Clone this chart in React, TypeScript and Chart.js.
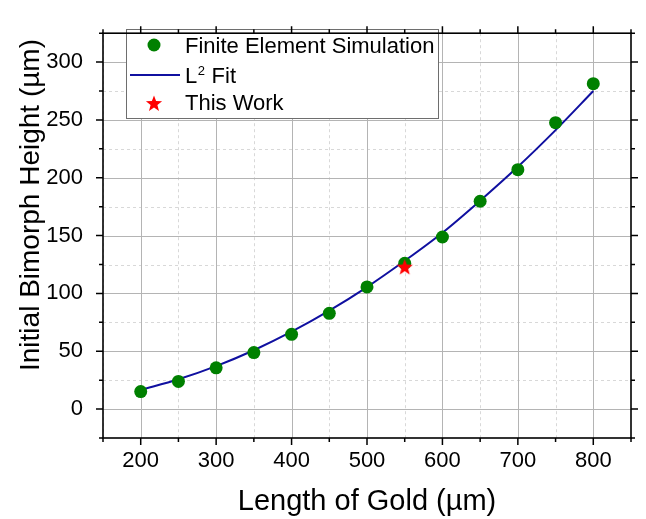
import React, { useEffect, useRef } from "react";
import { Chart, registerables } from "chart.js";

Chart.register(...registerables);

// ---- data ----
const lengths = [200, 250, 300, 350, 400, 450, 500, 550, 600, 650, 700, 750, 800];
const simHeights = [15.1, 23.9, 35.7, 48.9, 64.6, 82.8, 105.6, 126, 148.8, 179.7, 207, 247.6, 281.4];
const fitLengths = [200, 250, 300, 350, 400, 450, 500, 550, 600, 650, 700, 750, 800];
const fitHeights = [16.5, 25.8, 37.2, 50.9, 66.9, 85.1, 105.5, 128.2, 152.5, 180.2, 209.5, 241.2, 275];
const thisWorkLengths = [550];
const thisWorkHeights = [123.2];

const xMajorTicks = [200, 300, 400, 500, 600, 700, 800];
const xMinorTicks = [150, 250, 350, 450, 550, 650, 750, 850];
const yMajorTicks = [0, 50, 100, 150, 200, 250, 300];
const yMinorTicks = [-25, 25, 75, 125, 175, 225, 275, 325];

const seriesLabels = ["Finite Element Simulation", "L", "2", " Fit", "This Work"];
const xTitle = "Length of Gold (µm)";
const yTitle = "Initial Bimorph Height (µm)";

const FONT = "'Liberation Sans', Arial, sans-serif";
const GREEN = "#008000";
const BLUE = "#1010a0";
const RED = "#ff0000";

function drawStar(g: CanvasRenderingContext2D, cx: number, cy: number, R: number, color: string) {
  const r = R * 0.42;
  g.beginPath();
  for (let i = 0; i < 10; i++) {
    const ang = -Math.PI / 2 + (i * Math.PI) / 5;
    const rad = i % 2 === 0 ? R : r;
    const px = cx + rad * Math.cos(ang);
    const py = cy + rad * Math.sin(ang);
    if (i === 0) g.moveTo(px, py);
    else g.lineTo(px, py);
  }
  g.closePath();
  g.fillStyle = color;
  g.fill();
}

function makeStarImage(R: number, color: string) {
  const c = document.createElement("canvas");
  const size = Math.ceil(R * 2 + 2);
  c.width = size;
  c.height = size;
  const g = c.getContext("2d")!;
  drawStar(g, size / 2, size / 2 + 1, R, color);
  return c;
}

const framePlugin = {
  id: "framePlugin",
  beforeDatasetsDraw(chart: any) {
    const { ctx, chartArea: a, scales } = chart;
    const x = scales.x;
    const y = scales.y;
    ctx.save();
    ctx.beginPath();
    ctx.rect(a.left, a.top, a.right - a.left, a.bottom - a.top);
    ctx.clip();
    ctx.lineWidth = 1;
    ctx.strokeStyle = "#d8d8d8";
    ctx.setLineDash([3, 3]);
    for (const v of xMinorTicks) {
      const px = Math.round(x.getPixelForValue(v)) + 0.5;
      ctx.beginPath();
      ctx.moveTo(px, a.top);
      ctx.lineTo(px, a.bottom);
      ctx.stroke();
    }
    for (const v of yMinorTicks) {
      const py = Math.round(y.getPixelForValue(v)) + 0.5;
      ctx.beginPath();
      ctx.moveTo(a.left, py);
      ctx.lineTo(a.right, py);
      ctx.stroke();
    }
    ctx.setLineDash([]);
    ctx.strokeStyle = "#b4b4b4";
    for (const v of xMajorTicks) {
      const px = Math.round(x.getPixelForValue(v)) + 0.5;
      ctx.beginPath();
      ctx.moveTo(px, a.top);
      ctx.lineTo(px, a.bottom);
      ctx.stroke();
    }
    for (const v of yMajorTicks) {
      const py = Math.round(y.getPixelForValue(v)) + 0.5;
      ctx.beginPath();
      ctx.moveTo(a.left, py);
      ctx.lineTo(a.right, py);
      ctx.stroke();
    }
    ctx.restore();
  },
  afterDatasetsDraw(chart: any) {
    const { ctx } = chart;
    ctx.save();
    const L = 126.5, T = 29.5, W = 312, H = 89;
    ctx.fillStyle = "#ffffff";
    ctx.fillRect(L, T, W, H);
    ctx.strokeStyle = "#6e6e6e";
    ctx.lineWidth = 1;
    ctx.strokeRect(L, T, W, H);
    ctx.beginPath();
    ctx.arc(154, 45, 6.5, 0, Math.PI * 2);
    ctx.fillStyle = GREEN;
    ctx.fill();
    ctx.beginPath();
    ctx.moveTo(130, 75);
    ctx.lineTo(180, 75);
    ctx.strokeStyle = BLUE;
    ctx.lineWidth = 2;
    ctx.stroke();
    drawStar(ctx, 154, 104, 8.5, RED);
    ctx.fillStyle = "#000";
    ctx.textAlign = "left";
    ctx.textBaseline = "alphabetic";
    ctx.font = `22px ${FONT}`;
    ctx.fillText(seriesLabels[0], 185, 53);
    ctx.fillText(seriesLabels[1], 185, 83);
    const lw = ctx.measureText(seriesLabels[1]).width;
    ctx.font = `13px ${FONT}`;
    ctx.fillText(seriesLabels[2], 185 + lw + 0.5, 75);
    const sw = ctx.measureText(seriesLabels[2]).width;
    ctx.font = `22px ${FONT}`;
    ctx.fillText(seriesLabels[3], 185 + lw + sw + 1, 83);
    ctx.fillText(seriesLabels[4], 185, 110);
    ctx.restore();
  },
  afterDraw(chart: any) {
    const { ctx, chartArea: a, scales } = chart;
    const x = scales.x;
    const y = scales.y;
    ctx.save();
    ctx.strokeStyle = "#000";
    ctx.lineWidth = 1.6;
    ctx.strokeRect(a.left, a.top, a.right - a.left, a.bottom - a.top);
    const major = 7, minor = 4;
    ctx.lineWidth = 1.5;
    const tickX = (v: number, len: number) => {
      const px = x.getPixelForValue(v);
      ctx.beginPath();
      ctx.moveTo(px, a.bottom);
      ctx.lineTo(px, a.bottom + len);
      ctx.moveTo(px, a.top);
      ctx.lineTo(px, a.top - len);
      ctx.stroke();
    };
    const tickY = (v: number, len: number) => {
      const py = y.getPixelForValue(v);
      ctx.beginPath();
      ctx.moveTo(a.left, py);
      ctx.lineTo(a.left - len, py);
      ctx.moveTo(a.right, py);
      ctx.lineTo(a.right + len, py);
      ctx.stroke();
    };
    xMajorTicks.forEach((v) => tickX(v, major));
    xMinorTicks.forEach((v) => tickX(v, minor));
    yMajorTicks.forEach((v) => tickY(v, major));
    yMinorTicks.forEach((v) => tickY(v, minor));
    ctx.fillStyle = "#000";
    ctx.textAlign = "center";
    ctx.textBaseline = "alphabetic";
    ctx.font = `29px ${FONT}`;
    ctx.fillText(xTitle, (a.left + a.right) / 2, 510);
    ctx.translate(39, 205);
    ctx.rotate(-Math.PI / 2);
    ctx.font = `28px ${FONT}`;
    ctx.fillText(yTitle, 0, 0);
    ctx.restore();
  },
};

export default function App() {
  const ref = useRef<HTMLCanvasElement | null>(null);
  useEffect(() => {
    if (!ref.current) return;
    const star = makeStarImage(8.5, RED);
    const chart = new Chart(ref.current, {
      type: "scatter",
      data: {
        datasets: [
          {
            label: seriesLabels[4],
            data: thisWorkLengths.map((v, i) => ({ x: v, y: thisWorkHeights[i] })),
            pointStyle: star as any,
            pointRadius: 8,
            order: 0,
          },
          {
            label: seriesLabels[0],
            data: lengths.map((v, i) => ({ x: v, y: simHeights[i] })),
            backgroundColor: GREEN,
            borderColor: GREEN,
            pointRadius: 6.5,
            pointBorderWidth: 0,
            order: 1,
          },
          {
            label: "L² Fit",
            data: fitLengths.map((v, i) => ({ x: v, y: fitHeights[i] })),
            showLine: true,
            borderColor: BLUE,
            backgroundColor: BLUE,
            borderWidth: 2,
            pointRadius: 0,
            cubicInterpolationMode: "monotone",
            fill: false,
            order: 2,
          } as any,
        ],
      },
      options: {
        responsive: false,
        animation: false,
        events: [],
        layout: { padding: { top: 12, right: 15, left: 0, bottom: 0 } },
        plugins: { legend: { display: false }, tooltip: { enabled: false } },
        scales: {
          x: {
            type: "linear",
            min: 150,
            max: 850,
            grid: { display: false, drawTicks: false },
            border: { display: false },
            afterBuildTicks: (s: any) => {
              s.ticks = xMajorTicks.map((v) => ({ value: v }));
            },
            afterFit: (s: any) => {
              s.height = 81;
            },
            ticks: {
              font: { family: FONT, size: 22 },
              color: "#000",
              padding: 10,
              maxRotation: 0,
              autoSkip: false,
            },
          },
          y: {
            type: "linear",
            min: -25,
            max: 325,
            grid: { display: false, drawTicks: false },
            border: { display: false },
            afterBuildTicks: (s: any) => {
              s.ticks = yMajorTicks.map((v) => ({ value: v }));
            },
            afterFit: (s: any) => {
              s.width = 103;
            },
            ticks: {
              font: { family: FONT, size: 22 },
              color: "#000",
              padding: 20,
              autoSkip: false,
            },
          },
        },
      },
      plugins: [framePlugin],
    });
    return () => chart.destroy();
  }, []);
  return (
    <div style={{ position: "absolute", left: 0, top: 0, width: 646, height: 519, background: "#fff" }}>
      <canvas ref={ref} width={646} height={519} style={{ display: "block", width: 646, height: 519 }} />
    </div>
  );
}
